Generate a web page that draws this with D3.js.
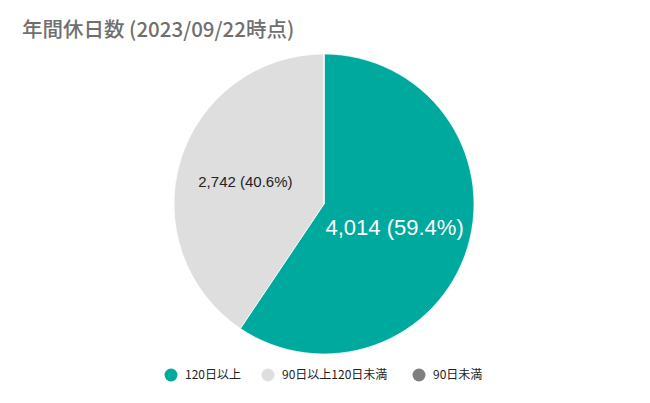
<!DOCTYPE html>
<meta charset="utf-8">
<html>
<head>
    <title>年間休日数</title>
</head>
<style>
    *{ margin:0; padding:0;}
    body{ background:#fff;}
</style>
<script src="https://cdn.jsdelivr.net/npm/d3@7"></script>
<body>
<div id="chart"></div>
<script>
    var categories = ["120日以上", "90日以上120日未満", "90日未満"];
    var values = [4014, 2742, 0];
    var colors = ["#00A99D", "#DEDEDE", "#7F7F7F"];
    var labelColors = ["#ffffff", "#222222", "#ffffff"];
    var labelSizes = [22, 15, 15];

    var width = 650, height = 403;
    var cx = 324, cy = 204, r = 150;

    var svg = d3.select("#chart").append("svg")
        .attr("width", width)
        .attr("height", height);

    svg.append("text")
        .attr("x", 22)
        .attr("y", 37)
        .style("font-family", "'Noto Sans CJK JP', 'Noto Sans', sans-serif")
        .style("font-size", "20.5px")
        .style("font-weight", "500")
        .style("fill", "#6f6f6f")
        .text("年間休日数 (2023/09/22時点)");

    var data = categories.map(function (c, i) {
        return { name: c, value: values[i], i: i };
    });

    var total = d3.sum(values);
    var pie = d3.pie().sort(null).value(function (d) { return d.value; });
    var arc = d3.arc().innerRadius(0).outerRadius(r);
    var labelArc = d3.arc().innerRadius(r * 0.52).outerRadius(r * 0.52);

    var g = svg.append("g").attr("transform", "translate(" + cx + "," + cy + ")");
    var arcs = pie(data);

    g.selectAll("path")
        .data(arcs)
        .enter().append("path")
        .attr("d", arc)
        .attr("fill", function (d) { return colors[d.data.i]; })
        .attr("stroke", "#fff")
        .attr("stroke-width", 0.7);

    g.selectAll("text.lbl")
        .data(arcs.filter(function (d) { return d.data.value > 0; }))
        .enter().append("text")
        .attr("class", "lbl")
        .attr("transform", function (d) { return "translate(" + labelArc.centroid(d) + ")"; })
        .attr("text-anchor", "middle")
        .attr("dx", -4)
        .attr("dy", "0.36em")
        .style("font-family", "'Liberation Sans', Arial, sans-serif")
        .style("font-size", function (d) { return labelSizes[d.data.i] + "px"; })
        .style("fill", function (d) { return labelColors[d.data.i]; })
        .text(function (d) {
            return d3.format(",")(d.data.value) + " (" + d3.format(".1f")(d.data.value / total * 100) + "%)";
        });

    // legend
    var legendX = [171, 268, 419];
    var legend = svg.append("g");
    var item = legend.selectAll("g")
        .data(categories)
        .enter().append("g")
        .attr("transform", function (d, i) { return "translate(" + legendX[i] + ",375)"; });
    item.append("circle")
        .attr("r", 6.5)
        .attr("fill", function (d, i) { return colors[i]; });
    item.append("text")
        .attr("x", 14)
        .attr("dy", "0.35em")
        .style("font-family", "'Noto Sans CJK JP', 'Noto Sans', sans-serif")
        .style("font-size", "12px")
        .style("fill", "#222")
        .text(function (d) { return d; });
</script>
</body>
</html>
